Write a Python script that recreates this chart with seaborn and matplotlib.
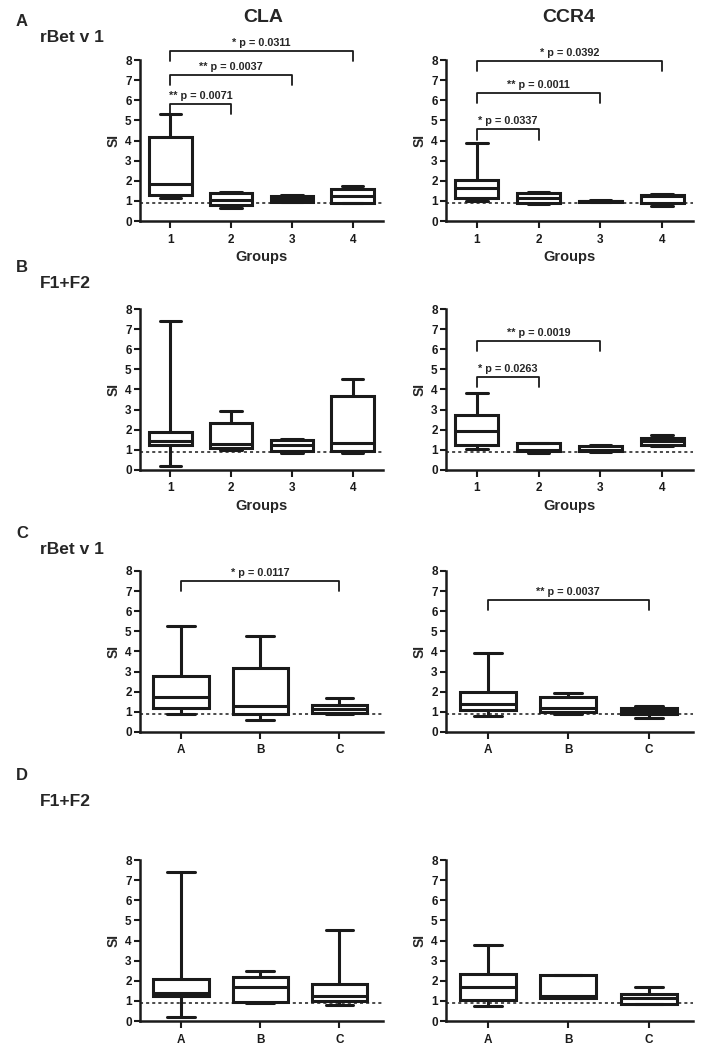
import numpy as np
import pandas as pd
import matplotlib
matplotlib.use("Agg")
import matplotlib.pyplot as plt
import seaborn as sns

# each group: min, q1, median, q3, max  (whiskers = min..max)
groups_num = ["1", "2", "3", "4"]
groups_abc = ["A", "B", "C"]

cla_rbet_grp = [[1.12, 1.3, 1.85, 4.2, 5.3],
                [0.65, 0.8, 1.05, 1.4, 1.45],
                [0.95, 0.97, 1.1, 1.25, 1.3],
                [0.9, 0.92, 1.25, 1.6, 1.75]]
ccr4_rbet_grp = [[1.0, 1.15, 1.65, 2.05, 3.9],
                 [0.85, 0.9, 1.15, 1.4, 1.45],
                 [0.95, 0.97, 1.0, 1.02, 1.05],
                 [0.75, 0.88, 1.25, 1.3, 1.35]]
cla_f12_grp = [[0.21, 1.24, 1.44, 1.9, 7.39],
               [0.99, 1.1, 1.27, 2.34, 2.92],
               [0.82, 0.95, 1.25, 1.5, 1.52],
               [0.85, 0.95, 1.32, 3.7, 4.54]]
ccr4_f12_grp = [[1.02, 1.23, 1.92, 2.71, 3.81],
                [0.82, 0.92, 0.97, 1.33, 1.35],
                [0.9, 0.92, 1.0, 1.2, 1.25],
                [1.2, 1.23, 1.45, 1.6, 1.76]]
cla_rbet_abc = [[0.9, 1.2, 1.72, 2.79, 5.29],
                [0.61, 0.9, 1.31, 3.2, 4.79],
                [0.9, 0.92, 1.15, 1.35, 1.69]]
ccr4_rbet_abc = [[0.81, 1.09, 1.39, 2.0, 3.9],
                 [0.9, 0.98, 1.19, 1.75, 1.92],
                 [0.68, 0.9, 1.06, 1.19, 1.31]]
cla_f12_abc = [[0.18, 1.24, 1.4, 2.07, 7.39],
               [0.9, 0.94, 1.69, 2.18, 2.48],
               [0.78, 0.99, 1.22, 1.82, 4.5]]
ccr4_f12_abc = [[0.75, 1.03, 1.69, 2.36, 3.8],
                [1.15, 1.16, 1.23, 2.28, 2.3],
                [0.86, 0.87, 1.16, 1.36, 1.69]]

# significance brackets: (group i, group j, label)
sig_cla_rbet_grp = [(0, 1, "** p = 0.0071"), (0, 2, "** p = 0.0037"), (0, 3, "* p = 0.0311")]
sig_ccr4_rbet_grp = [(0, 1, "* p = 0.0337"), (0, 2, "** p = 0.0011"), (0, 3, "* p = 0.0392")]
sig_ccr4_f12_grp = [(0, 1, "* p = 0.0263"), (0, 2, "** p = 0.0019")]
sig_cla_rbet_abc = [(0, 2, "* p = 0.0117")]
sig_ccr4_rbet_abc = [(0, 2, "** p = 0.0037")]

ref_line = 0.9

sns.set_style("ticks")
plt.rcParams["font.family"] = ["Liberation Sans", "DejaVu Sans"]
plt.rcParams["font.weight"] = "bold"
plt.rcParams["axes.labelweight"] = "bold"

fig = plt.figure(figsize=(7.17, 10.5), dpi=100)

col_x = [140 / 717, 446 / 717]
col_w = [243 / 717, 247 / 717]
row_b = [0.7895, 0.5524, 0.3029, 0.0276]
row_h = 0.1533

panels = [
    (0, 0, cla_rbet_grp, groups_num, sig_cla_rbet_grp, [5.81, 7.25, 8.46]),
    (0, 1, ccr4_rbet_grp, groups_num, sig_ccr4_rbet_grp, [4.55, 6.37, 7.95]),
    (1, 0, cla_f12_grp, groups_num, [], []),
    (1, 1, ccr4_f12_grp, groups_num, sig_ccr4_f12_grp, [4.6, 6.39]),
    (2, 0, cla_rbet_abc, groups_abc, sig_cla_rbet_abc, [7.52]),
    (2, 1, ccr4_rbet_abc, groups_abc, sig_ccr4_rbet_abc, [6.55]),
    (3, 0, cla_f12_abc, groups_abc, [], []),
    (3, 1, ccr4_f12_abc, groups_abc, [], []),
]

for r, c, vals, cats, sigs, levels in panels:
    ax = fig.add_axes([col_x[c], row_b[r], col_w[c], row_h])
    df = pd.DataFrame({"group": np.repeat(cats, 5),
                       "SI": np.concatenate(vals)})
    sns.boxplot(data=df, x="group", y="SI", order=cats, whis=(0, 100),
                width=0.7, color="white", linecolor="#1a1a1a", linewidth=2.2,
                fliersize=0, ax=ax)
    ax.axhline(ref_line, color="#1a1a1a", ls=(0, (2, 2)), lw=1.1, zorder=0.5)
    ax.set_ylim(0, 8)
    ax.set_yticks(range(0, 9))
    if len(cats) == 4:
        ax.set_xlim(-0.5, 3.5)
    else:
        ax.set_xlim(-0.52, 2.55)
    sns.despine(ax=ax)
    for s in ["left", "bottom"]:
        ax.spines[s].set_linewidth(1.8)
        ax.spines[s].set_color("#1a1a1a")
    ax.tick_params(width=1.5, length=4, labelsize=8.5, colors="#1a1a1a", pad=2)
    ax.tick_params(axis="x", length=5, pad=4)
    ax.set_ylabel("SI", fontsize=10, labelpad=3)
    ax.set_xlabel("Groups" if r < 2 else "", fontsize=10.5, labelpad=3)
    for (i, j, lab), y in zip(sigs, levels):
        ax.plot([i, i, j, j], [y - 0.5, y, y, y - 0.5], color="#1a1a1a",
                lw=1.3, clip_on=False)
        ax.text((i + j) / 2, y + 0.4, lab, ha="center", va="center",
                fontsize=7.8, clip_on=False)

H = 1050
fig.text(263 / 717, 1 - 18 / H, "CLA", ha="center", va="center", fontsize=14)
fig.text(569 / 717, 1 - 17 / H, "CCR4", ha="center", va="center", fontsize=14)
for letter, ly, sub, sy in [("A", 22, "rBet v 1", 38), ("B", 268, "F1+F2", 283),
                            ("C", 533, "rBet v 1", 549), ("D", 776, "F1+F2", 801)]:
    fig.text(16 / 717, 1 - ly / H, letter, ha="left", va="center", fontsize=12)
    fig.text(40 / 717, 1 - sy / H, sub, ha="left", va="center", fontsize=12.5)

fig.savefig("out.png", dpi=100, facecolor="white")
